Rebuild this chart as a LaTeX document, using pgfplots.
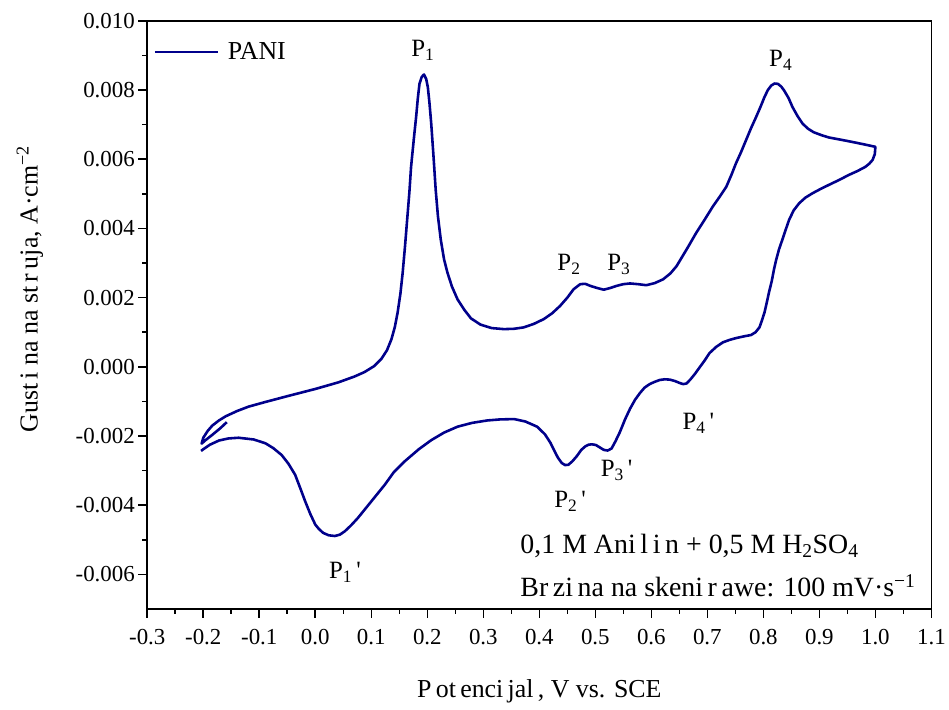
\documentclass[border=0pt]{standalone}
\usepackage{fontspec}
\setmainfont{Liberation Serif}
\usepackage{pgfplots}
\pgfplotsset{compat=1.18}
\definecolor{cvblue}{RGB}{0,0,139}

\begin{document}
\begin{tikzpicture}
\begin{axis}[
    scale only axis,
    width=788pt, height=591pt,
    xmin=-0.3, xmax=1.1,
    ymin=-0.007, ymax=0.010,
    scaled y ticks=false, scaled x ticks=false,
    xtick={-0.3,-0.2,-0.1,0,0.1,0.2,0.3,0.4,0.5,0.6,0.7,0.8,0.9,1.0,1.1},
    xticklabels={-0.3,-0.2,-0.1,0.0,0.1,0.2,0.3,0.4,0.5,0.6,0.7,0.8,0.9,1.0,1.1},
    ytick={-0.006,-0.004,-0.002,0,0.002,0.004,0.006,0.008,0.010},
    yticklabels={-0.006,-0.004,-0.002,0.000,0.002,0.004,0.006,0.008,0.010},
    minor x tick num=1, minor y tick num=1,
    tick pos=left, tick align=outside,
    major tick length=9pt, minor tick length=5pt,
    axis line style={line width=1.6pt},
    every tick/.style={black, line width=1.6pt},
    tick label style={font=\fontsize{23}{27}\selectfont},
    xticklabel style={yshift=-8pt},
    xlabel={P\,ot\,enci\,jal\,, V vs. SCE},
    ylabel={Gust\,i na na st\,r\,uja, A·cm\textsuperscript{−2}},
    every axis x label/.style={at={(axis description cs:0.5,-0.14)}, anchor=center,
                               font=\fontsize{26}{30}\selectfont},
    every axis y label/.style={at={(axis description cs:-0.1497,0.544)}, anchor=center, rotate=90,
                               font=\fontsize{26}{30}\selectfont},
    legend style={draw=none, fill=none, at={(rel axis cs:0.004,0.97)}, anchor=north west,
                  font=\fontsize{26}{30}\selectfont},
    legend image code/.code={\pgfsetlinewidth{2.6pt}\draw[#1] (0pt,0pt) -- (63pt,0pt); \path (70pt,0pt);},
    legend image post style={line width=2.6pt},
    legend cell align=left,
]
\addplot[cvblue, line width=2.6pt, line join=round] coordinates {
(-0.158,-0.00160) (-0.170,-0.00178) (-0.185,-0.00198) (-0.196,-0.00212) (-0.203,-0.00222)
(-0.200,-0.00205) (-0.192,-0.00185) (-0.184,-0.00170) (-0.172,-0.00155) (-0.160,-0.00143)
(-0.140,-0.00128) (-0.119,-0.00115) (-0.090,-0.00102) (-0.048,-0.00084) (0.000,-0.00064)
(0.041,-0.00045) (0.070,-0.00028) (0.088,-0.00015) (0.105,0.00002) (0.118,0.00023)
(0.128,0.00048) (0.136,0.00080) (0.142,0.00115) (0.147,0.00157) (0.152,0.00212)
(0.156,0.00272) (0.160,0.00345) (0.164,0.00425) (0.168,0.00505) (0.171,0.00578)
(0.176,0.00660) (0.180,0.00722) (0.183,0.00775) (0.186,0.00818) (0.190,0.00838)
(0.194,0.00845) (0.198,0.00832) (0.201,0.00808) (0.204,0.00760) (0.207,0.00703)
(0.211,0.00610) (0.215,0.00511) (0.219,0.00435) (0.224,0.00368) (0.230,0.00310)
(0.236,0.00272) (0.244,0.00232) (0.254,0.00195) (0.266,0.00165) (0.278,0.00140)
(0.295,0.00122) (0.315,0.00112) (0.337,0.00109) (0.355,0.00110) (0.372,0.00114)
(0.390,0.00124) (0.408,0.00138) (0.423,0.00155) (0.437,0.00176) (0.450,0.00200)
(0.461,0.00224) (0.473,0.00239) (0.482,0.00240) (0.491,0.00234) (0.503,0.00228)
(0.515,0.00223) (0.527,0.00228) (0.538,0.00234) (0.550,0.00239) (0.562,0.00241)
(0.576,0.00239) (0.591,0.00236) (0.606,0.00242) (0.621,0.00253) (0.634,0.00270)
(0.645,0.00291) (0.655,0.00318) (0.665,0.00345) (0.680,0.00387) (0.695,0.00425)
(0.710,0.00464) (0.723,0.00494) (0.734,0.00521) (0.743,0.00555) (0.751,0.00588)
(0.760,0.00620) (0.769,0.00655) (0.778,0.00690) (0.787,0.00722) (0.795,0.00752)
(0.802,0.00780) (0.808,0.00800) (0.814,0.00813) (0.820,0.00819) (0.826,0.00818)
(0.832,0.00810) (0.837,0.00799) (0.845,0.00777) (0.852,0.00751) (0.861,0.00725)
(0.870,0.00703) (0.880,0.00688) (0.890,0.00678) (0.905,0.00669) (0.917,0.00663)
(0.940,0.00656) (0.959,0.00650) (0.980,0.00643) (1.000,0.00636)
(0.999,0.00615) (0.995,0.00598) (0.989,0.00587) (0.982,0.00578) (0.968,0.00566)
(0.953,0.00555) (0.935,0.00540) (0.917,0.00526) (0.902,0.00514) (0.888,0.00502)
(0.875,0.00489) (0.864,0.00473) (0.854,0.00452) (0.846,0.00425) (0.840,0.00397)
(0.834,0.00368) (0.828,0.00340) (0.823,0.00310) (0.819,0.00282) (0.815,0.00248)
(0.810,0.00215) (0.806,0.00185) (0.802,0.00157) (0.797,0.00132) (0.793,0.00114)
(0.786,0.00100) (0.778,0.00092) (0.765,0.00088) (0.751,0.00083) (0.740,0.00078)
(0.728,0.00071) (0.716,0.00058) (0.704,0.00040) (0.695,0.00018) (0.686,-0.00002)
(0.678,-0.00020) (0.670,-0.00036) (0.663,-0.00048) (0.657,-0.00050) (0.651,-0.00047)
(0.642,-0.00041) (0.633,-0.00037) (0.624,-0.00036) (0.615,-0.00038) (0.605,-0.00044)
(0.597,-0.00050) (0.588,-0.00060) (0.580,-0.00075) (0.571,-0.00095) (0.562,-0.00121)
(0.553,-0.00152) (0.544,-0.00188) (0.536,-0.00215) (0.529,-0.00236) (0.522,-0.00242)
(0.515,-0.00240) (0.509,-0.00234) (0.501,-0.00226) (0.494,-0.00224) (0.488,-0.00225)
(0.482,-0.00230) (0.475,-0.00240) (0.467,-0.00258) (0.459,-0.00273) (0.452,-0.00283)
(0.446,-0.00284) (0.440,-0.00278) (0.433,-0.00262) (0.426,-0.00240) (0.420,-0.00220)
(0.410,-0.00195) (0.396,-0.00173) (0.375,-0.00158) (0.355,-0.00151) (0.330,-0.00152)
(0.307,-0.00155) (0.280,-0.00162) (0.254,-0.00173) (0.230,-0.00190) (0.207,-0.00212)
(0.185,-0.00238) (0.159,-0.00274) (0.140,-0.00305) (0.124,-0.00341) (0.112,-0.00365)
(0.100,-0.00389) (0.088,-0.00413) (0.076,-0.00437) (0.064,-0.00458) (0.053,-0.00475)
(0.044,-0.00485) (0.035,-0.00489) (0.024,-0.00487) (0.014,-0.00480) (0.006,-0.00468)
(0.000,-0.00456) (-0.009,-0.00425) (-0.018,-0.00389) (-0.027,-0.00350) (-0.036,-0.00312)
(-0.048,-0.00280) (-0.060,-0.00255) (-0.075,-0.00235) (-0.089,-0.00221) (-0.110,-0.00210)
(-0.137,-0.00205) (-0.155,-0.00207) (-0.172,-0.00213) (-0.188,-0.00225) (-0.198,-0.00236)
(-0.204,-0.00243)
};
\addlegendentry{PANI}

\begin{scope}[every node/.style={font=\fontsize{25}{29}\selectfont}]
\node at (axis cs:0.192,0.00914) {P\textsubscript{1}};
\node at (axis cs:0.453,0.00296) {P\textsubscript{2}};
\node at (axis cs:0.542,0.00296) {P\textsubscript{3}};
\node at (axis cs:0.831,0.00885) {P\textsubscript{4}};
\node at (axis cs:0.053,-0.00595) {P\textsubscript{1}\,\textquotesingle};
\node at (axis cs:0.455,-0.00388) {P\textsubscript{2}\,\textquotesingle};
\node at (axis cs:0.538,-0.00299) {P\textsubscript{3}\,\textquotesingle};
\node at (axis cs:0.684,-0.00164) {P\textsubscript{4}\,\textquotesingle};
\end{scope}
\begin{scope}[every node/.style={font=\fontsize{28}{32}\selectfont, anchor=west, inner sep=0pt}]
\node at (axis cs:0.366,-0.00517) {0,1 M Ani\,l\,i\,n + 0,5 M H\textsubscript{2}SO\textsubscript{4}};
\node at (axis cs:0.366,-0.00632) {Br\,zi\,na na skeni\,r\,awe: 100 mV·s\textsuperscript{−1}};
\end{scope}
\end{axis}
\path ([xshift=-148pt,yshift=-101pt]current axis.south west) rectangle ([xshift=13pt,yshift=21pt]current axis.north east);
\end{tikzpicture}
\end{document}
